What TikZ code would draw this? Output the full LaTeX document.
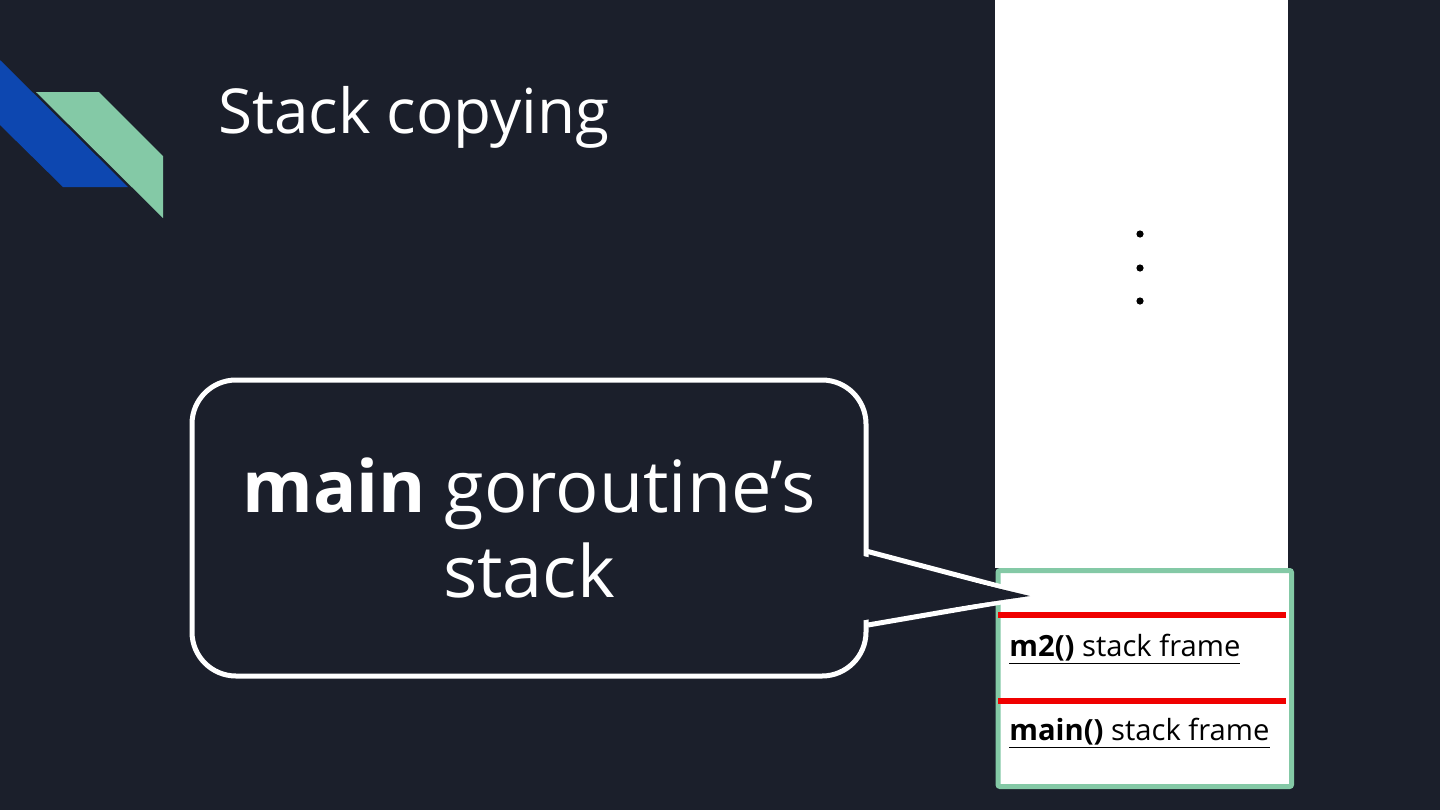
\documentclass[tikz,border=0pt]{standalone}
\usepackage{fontspec}
\setmainfont{Open Sans}
\usepackage{tikz}
\usetikzlibrary{positioning, calc}
\definecolor{slidebg}{RGB}{27,31,43}
\definecolor{logoblue}{RGB}{13,71,176}
\definecolor{logogreen}{RGB}{132,201,166}
\definecolor{framered}{RGB}{240,0,0}
\tikzset{
  bubble/.style={rectangle, draw=white, fill=slidebg, line width=2.5pt,
    rounded corners=22pt, minimum width=337pt, minimum height=148pt,
    text=white, align=center, font=\fontsize{36}{42.5}\selectfont},
  stackcol/.style={rectangle, fill=white, inner sep=0pt},
  framebox/.style={rectangle, draw=logogreen, fill=white, line width=2.5pt,
    rounded corners=1pt, inner sep=0pt},
  redline/.style={line width=3pt, color=framered},
  frametext/.style={anchor=base west, inner sep=0pt, text=black,
    font=\fontsize{14.6}{17}\selectfont},
  pointer/.style={draw=white, line width=2.5pt, line join=miter}
}

\begin{document}
\begin{tikzpicture}[x=0.5pt, y=-0.5pt]
  % Background
  \fill[slidebg] (0,0) rectangle (1440,810);
  \useasboundingbox (0,0) rectangle (1440,810);

  % Logo
  \fill[logoblue] (0,60) -- (128,187) -- (63,187) -- (0,125) -- cycle;
  \fill[logogreen] (36,92) -- (99,92) -- (163,156) -- (163,218) -- cycle;

  % Title
  \node[anchor=base west, inner sep=0pt, text=white, font=\fontsize{31}{36}\selectfont]
    (title) at (218,133) {Stack copying};

  % Stack column
  \node[stackcol, minimum width=146.5pt, minimum height=284pt, anchor=north west]
    (column) at (995,0) {};
  \fill (1140,234) circle (1.8pt);
  \fill (1140,268) circle (1.8pt);
  \fill (1140,301) circle (1.8pt);

  % Stack frames
  \node[framebox, minimum width=146.75pt, minimum height=108pt, anchor=north west]
    (frames) at (995.5,568) {};
  \coordinate (r1) at (998,615);
  \coordinate (r2) at (998,701);
  \draw[redline] (r1) -- ++(288,0);
  \draw[redline] (r2) -- ++(288,0);
  \node[frametext] (m2frame) at (1009,656) {\underline{\textbf{m2()} stack frame}};
  \node[frametext] (mainframe) at (1009,740) {\underline{\textbf{main()} stack frame}};

  % Speech bubble
  \node[bubble] (bubble) at (529,528) {\textbf{main} goroutine’s\\stack};
  \coordinate (ptop) at (866,551);
  \coordinate (tip) at (1030,596);
  \coordinate (pbot) at (868,625);
  \draw[pointer] (ptop) -- ([xshift=3pt]tip) -- (pbot);
  \fill[slidebg] (861,555.5) -- (tip) -- (861,620.5) -- cycle;
\end{tikzpicture}
\end{document}
